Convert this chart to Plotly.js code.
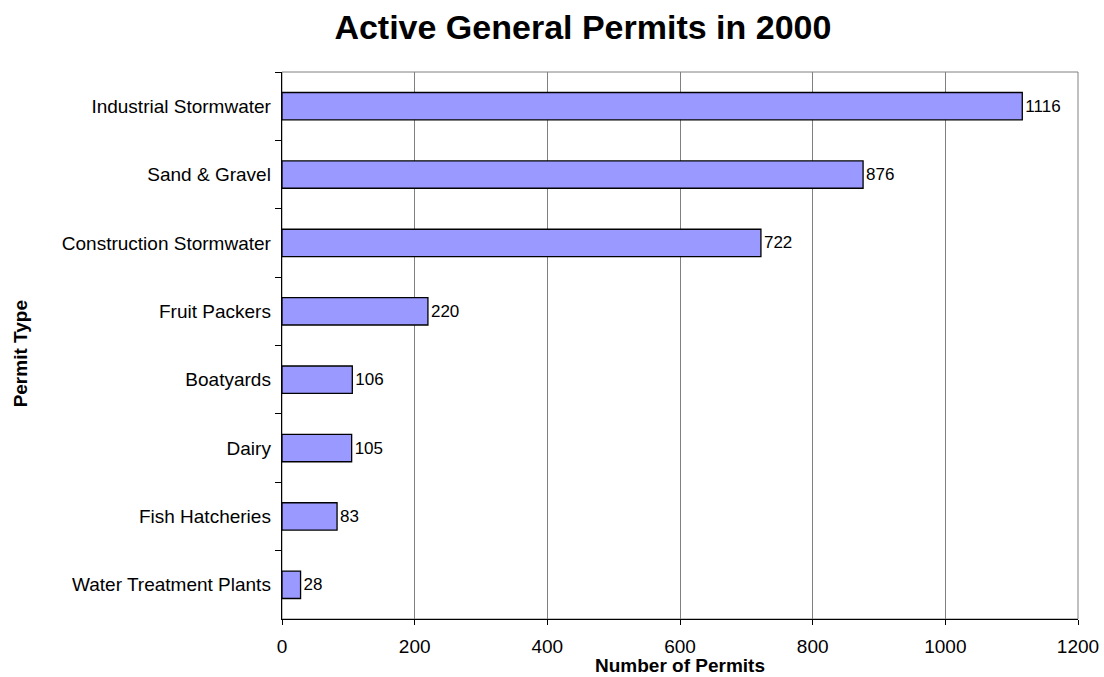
<!DOCTYPE html>
<html><head><meta charset="utf-8">
<script src="https://cdn.plot.ly/plotly-3.0.1.min.js"></script>
<style>body{margin:0;background:#fff}#chart{width:1104px;height:677px}</style>
</head><body><div id="chart"></div>
<script>
const categories = ["Industrial Stormwater","Sand & Gravel","Construction Stormwater","Fruit Packers","Boatyards","Dairy","Fish Hatcheries","Water Treatment Plants"];
const permits = [1116, 876, 722, 220, 106, 105, 83, 28];
const xTicks = [0, 200, 400, 600, 800, 1000, 1200];

const font = "Liberation Sans, Arial, sans-serif";
const trace = {
  type: "bar", orientation: "h",
  y: categories, x: permits,
  marker: {color: "#9999FF", line: {color: "#000", width: 1.3}},
  width: 0.4,
  text: permits.map(String), textposition: "outside", cliponaxis: false,
  textfont: {family: font, size: 17, color: "#000"},
  hoverinfo: "none"
};
const layout = {
  width: 1104, height: 677,
  margin: {l: 282, r: 26, t: 72, b: 58},
  paper_bgcolor: "#fff", plot_bgcolor: "#fff",
  showlegend: false,
  font: {family: font, color: "#000"},
  title: {text: "<b>Active General Permits in 2000</b>", font: {family: font, size: 34, color: "#000"},
          xref: "container", x: 0.528, xanchor: "center", yref: "container", y: 0.96, yanchor: "middle"},
  xaxis: {range: [0, 1200], tickvals: xTicks, ticktext: xTicks.map(String),
          showgrid: true, gridcolor: "#808080", gridwidth: 1,
          showline: true, linecolor: "#000", linewidth: 1.3, zeroline: false,
          ticks: "outside", ticklen: 5, tickcolor: "#000", ticklabelstandoff: 5,
          tickfont: {family: font, size: 19, color: "#000"}},
  yaxis: {categoryorder: "array", categoryarray: categories, autorange: "reversed",
          showline: true, linecolor: "#000", linewidth: 1.3, showgrid: false, zeroline: false,
          ticks: "outside", ticklen: 6, tickcolor: "#000", tickson: "boundaries",
          ticklabelstandoff: 6,
          tickfont: {family: font, size: 19, color: "#000"}},
  annotations: [
    {text: "<b>Number of Permits</b>", xref: "paper", yref: "paper", x: 0.5, y: -0.0841,
     xanchor: "center", yanchor: "middle", showarrow: false, font: {family: font, size: 19, color: "#000"}},
    {text: "<b>Permit Type</b>", xref: "paper", yref: "paper", x: -0.329, y: 0.484, textangle: -90,
     xanchor: "center", yanchor: "middle", showarrow: false, font: {family: font, size: 19, color: "#000"}}
  ],
  shapes: [{type: "rect", xref: "paper", yref: "paper", x0: 0, x1: 1, y0: 0, y1: 1,
            line: {color: "#808080", width: 1}, layer: "below"}]
};
Plotly.newPlot("chart", [trace], layout, {displayModeBar: false, staticPlot: true});
</script></body></html>
